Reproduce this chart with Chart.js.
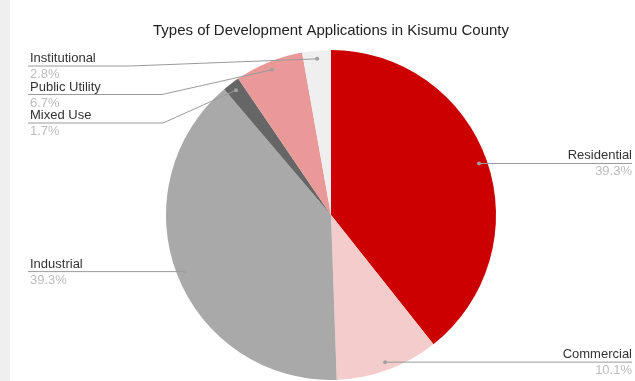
<!DOCTYPE html>
<html>
<head>
<meta charset="utf-8">
<script src="https://cdn.jsdelivr.net/npm/chart.js@4.4.1/dist/chart.umd.min.js"></script>
<style>
  html, body { margin: 0; padding: 0; background: #ffffff; }
  #wrap { width: 635px; height: 381px; position: relative; }
</style>
</head>
<body>
<div id="wrap"><canvas id="chart" width="635" height="381"></canvas></div>
<script>
// Application types and their share of all development applications (%)
const categories = ['Residential', 'Commercial', 'Industrial', 'Mixed Use', 'Public Utility', 'Institutional'];
const shares = [39.3, 10.1, 39.3, 1.7, 6.7, 2.8];
const sliceColors = ['#cc0000', '#f4cccc', '#a9a9a9', '#666666', '#ea9999', '#efefef'];
const chartTitle = 'Types of Development Applications in Kisumu County';

const FONT = '"Liberation Sans", Arial, sans-serif';

// Light grey strip down the left edge of the page
const sideStrip = {
  id: 'sideStrip',
  beforeDraw(chart) {
    const ctx = chart.ctx;
    ctx.save();
    ctx.fillStyle = '#efefef';
    ctx.fillRect(0, 0, 10, chart.height);
    ctx.restore();
  }
};

// Outside labels with leader lines, Google-Sheets style
const leaderLabels = {
  id: 'leaderLabels',
  afterDatasetsDraw(chart) {
    const ctx = chart.ctx;
    const meta = chart.getDatasetMeta(0);
    const values = chart.data.datasets[0].data;
    const names = chart.data.labels;
    const leftX = 30, rightX = 632, gap = 28.5, topLine = 66;
    const elbowX = { 'Institutional': 130, 'Public Utility': 162, 'Mixed Use': 163 };

    const items = meta.data.map((arc, i) => {
      const p = arc.getProps(['x', 'y', 'startAngle', 'endAngle', 'outerRadius'], true);
      const mid = (p.startAngle + p.endAngle) / 2;
      const r = p.outerRadius * 0.95;
      return {
        name: names[i],
        value: values[i],
        ax: p.x + Math.cos(mid) * r,
        ay: p.y + Math.sin(mid) * r,
        left: Math.cos(mid) < 0
      };
    });

    // Stack label lines on each side so they never overlap
    ['left', 'right'].forEach(side => {
      const list = items.filter(it => (side === 'left') === it.left).sort((a, b) => a.ay - b.ay);
      let prev = -Infinity;
      list.forEach(it => {
        it.ly = Math.max(it.ay, prev + gap, topLine);
        prev = it.ly;
      });
    });

    ctx.save();
    items.forEach(it => {
      // leader line
      ctx.strokeStyle = '#9a9a9a';
      ctx.lineWidth = 1;
      ctx.beginPath();
      if (it.left) {
        ctx.moveTo(leftX - 2, it.ly);
        const ex = elbowX[it.name];
        if (ex !== undefined && Math.abs(it.ly - it.ay) > 0.5) ctx.lineTo(ex, it.ly);
        ctx.lineTo(it.ax, it.ay);
      } else {
        ctx.moveTo(rightX, it.ly);
        ctx.lineTo(it.ax, it.ay);
      }
      ctx.stroke();

      // anchor dot
      ctx.fillStyle = '#a0a0a0';
      ctx.beginPath();
      ctx.arc(it.ax, it.ay, 2, 0, Math.PI * 2);
      ctx.fill();

      // text
      ctx.textAlign = it.left ? 'left' : 'right';
      ctx.textBaseline = 'alphabetic';
      const tx = it.left ? leftX : rightX;
      ctx.font = '13px ' + FONT;
      ctx.fillStyle = '#333333';
      ctx.fillText(it.name, tx, it.ly - 4);
      ctx.fillStyle = '#bdbdbd';
      ctx.fillText(it.value.toFixed(1) + '%', tx, it.ly + 12);
    });
    ctx.restore();
  }
};

new Chart(document.getElementById('chart'), {
  type: 'pie',
  data: {
    labels: categories,
    datasets: [{
      data: shares,
      backgroundColor: sliceColors,
      borderWidth: 0
    }]
  },
  options: {
    responsive: false,
    animation: false,
    layout: { padding: { left: 27, right: 0, top: 0, bottom: 1 } },
    plugins: {
      legend: { display: false },
      tooltip: { enabled: false },
      title: {
        display: true,
        text: chartTitle,
        color: '#222222',
        font: { family: FONT, size: 15, weight: 'normal' },
        padding: { top: 22, bottom: 10 }
      }
    }
  },
  plugins: [sideStrip, leaderLabels]
});
</script>
</body>
</html>
